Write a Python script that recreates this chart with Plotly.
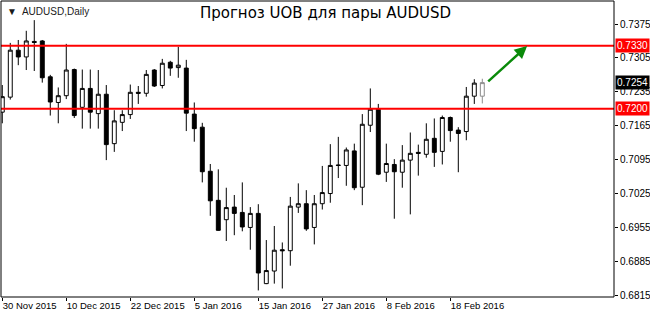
import plotly.graph_objects as go
import pandas as pd

dates = [
    "2015-11-30", "2015-12-01", "2015-12-02", "2015-12-03", "2015-12-04",
    "2015-12-07", "2015-12-08", "2015-12-09", "2015-12-10", "2015-12-11",
    "2015-12-14", "2015-12-15", "2015-12-16", "2015-12-17", "2015-12-18",
    "2015-12-21", "2015-12-22", "2015-12-23", "2015-12-24", "2015-12-28",
    "2015-12-29", "2015-12-30", "2015-12-31", "2016-01-04", "2016-01-05",
    "2016-01-06", "2016-01-07", "2016-01-08", "2016-01-11", "2016-01-12",
    "2016-01-13", "2016-01-14", "2016-01-15", "2016-01-18", "2016-01-19",
    "2016-01-20", "2016-01-21", "2016-01-22", "2016-01-25", "2016-01-26",
    "2016-01-27", "2016-01-28", "2016-01-29", "2016-02-01", "2016-02-02",
    "2016-02-03", "2016-02-04", "2016-02-05", "2016-02-08", "2016-02-09",
    "2016-02-10", "2016-02-11", "2016-02-12", "2016-02-15", "2016-02-16",
    "2016-02-17", "2016-02-18", "2016-02-19", "2016-02-22", "2016-02-23",
    "2016-02-24",
]

open_ = [
    0.7193, 0.7224, 0.7321, 0.7307, 0.7339, 0.7340, 0.7266, 0.7213, 0.7227, 0.7281,
    0.7203, 0.7242, 0.7190, 0.7230, 0.7128, 0.7172, 0.7188, 0.7234, 0.7232, 0.7280,
    0.7248, 0.7296, 0.7285, 0.7284, 0.7189, 0.7162, 0.7071, 0.7011, 0.6971, 0.6997,
    0.6986, 0.6955, 0.6984, 0.6839, 0.6865, 0.6909, 0.6907, 0.6997, 0.7004, 0.6955,
    0.7004, 0.7025, 0.7084, 0.7083, 0.7113, 0.7038, 0.7166, 0.7199, 0.7069, 0.7085,
    0.7069, 0.7094, 0.7110, 0.7106, 0.7139, 0.7112, 0.7182, 0.7156, 0.7153, 0.7226,
    0.7226,
]
high = [
    0.7249, 0.7336, 0.7342, 0.7361, 0.7383, 0.7342, 0.7270, 0.7244, 0.7334, 0.7283,
    0.7281, 0.7281, 0.7280, 0.7249, 0.7197, 0.7197, 0.7250, 0.7247, 0.7280, 0.7282,
    0.7303, 0.7299, 0.7328, 0.7301, 0.7213, 0.7171, 0.7086, 0.7075, 0.7037, 0.7022,
    0.7048, 0.6997, 0.7003, 0.6929, 0.6958, 0.6924, 0.7018, 0.7046, 0.7032, 0.7022,
    0.7082, 0.7127, 0.7142, 0.7120, 0.7128, 0.7189, 0.7242, 0.7210, 0.7128, 0.7096,
    0.7125, 0.7151, 0.7126, 0.7170, 0.7180, 0.7186, 0.7184, 0.7162, 0.7245, 0.7261,
    0.7262,
]
low = [
    0.7170, 0.7219, 0.7290, 0.7280, 0.7278, 0.7254, 0.7186, 0.7170, 0.7220, 0.7181,
    0.7159, 0.7159, 0.7159, 0.7094, 0.7111, 0.7154, 0.7179, 0.7210, 0.7225, 0.7245,
    0.7242, 0.7268, 0.7264, 0.7154, 0.7132, 0.7048, 0.6979, 0.6948, 0.6927, 0.6939,
    0.6947, 0.6909, 0.6825, 0.6838, 0.6839, 0.6829, 0.6876, 0.6985, 0.6948, 0.6920,
    0.6992, 0.7006, 0.7057, 0.7041, 0.7032, 0.7001, 0.7152, 0.7063, 0.7049, 0.6973,
    0.7037, 0.6982, 0.7062, 0.7099, 0.7080, 0.7085, 0.7132, 0.7069, 0.7135, 0.7210,
    0.7211,
]
close = [
    0.7225, 0.7321, 0.7307, 0.7340, 0.7337, 0.7264, 0.7214, 0.7227, 0.7280, 0.7186,
    0.7242, 0.7193, 0.7230, 0.7126, 0.7175, 0.7188, 0.7234, 0.7232, 0.7271, 0.7247,
    0.7294, 0.7284, 0.7290, 0.7191, 0.7159, 0.7070, 0.7010, 0.6949, 0.6996, 0.6984,
    0.6956, 0.6984, 0.6861, 0.6866, 0.6908, 0.6907, 0.6999, 0.7004, 0.6952, 0.7004,
    0.7027, 0.7083, 0.7083, 0.7115, 0.7037, 0.7168, 0.7199, 0.7065, 0.7087, 0.7070,
    0.7094, 0.7108, 0.7108, 0.7137, 0.7110, 0.7182, 0.7155, 0.7149, 0.7226, 0.7253,
    0.7254,
]

price_ticks = [0.6815, 0.6885, 0.6955, 0.7025, 0.7095, 0.7165, 0.7235, 0.7305, 0.7375]
label_dates = ["2015-11-30", "2015-12-10", "2015-12-22", "2016-01-05", "2016-01-15",
               "2016-01-27", "2016-02-08", "2016-02-18"]
levels = [0.7330, 0.7200]
current_price = 0.7254
arrow_from = (60.55, 0.72537)
arrow_to = (65.6, 0.73295)

title_text = "Прогноз UOB для пары AUDUSD"
symbol_text = "AUDUSD,Daily"

ticktext = [f"{pd.Timestamp(d).day} {pd.Timestamp(d):%b %Y}" for d in label_dates]

FONT = "Liberation Sans, Arial"

fig = go.Figure()

n = len(dates)
fig.add_trace(go.Candlestick(
    x=dates[:n - 1], open=open_[:n - 1], high=high[:n - 1], low=low[:n - 1], close=close[:n - 1],
    increasing=dict(fillcolor="white", line=dict(color="black", width=1)),
    decreasing=dict(fillcolor="black", line=dict(color="black", width=1)),
    whiskerwidth=0, hoverinfo="skip", showlegend=False,
))
fig.add_trace(go.Candlestick(
    x=dates[n - 1:], open=open_[n - 1:], high=high[n - 1:], low=low[n - 1:], close=close[n - 1:],
    increasing=dict(fillcolor="white", line=dict(color="#8c8c8c", width=1)),
    decreasing=dict(fillcolor="#8c8c8c", line=dict(color="#8c8c8c", width=1)),
    whiskerwidth=0, hoverinfo="skip", showlegend=False,
))

shapes = []
for lv in levels:
    shapes.append(dict(type="line", xref="paper", x0=0, x1=1, yref="y", y0=lv, y1=lv,
                       line=dict(color="#ff0000", width=2), layer="above"))
shapes.append(dict(type="rect", xref="paper", yref="paper", x0=0, x1=1, y0=0, y1=1,
                   line=dict(color="black", width=1), layer="above"))

annotations = [
    dict(text=title_text, xref="paper", yref="paper", x=0.53, y=1, yshift=-1, xanchor="center",
         yanchor="top", showarrow=False,
         font=dict(family="DejaVu Sans", size=15, color="black")),
    dict(text="\u25bc  " + symbol_text, xref="paper", yref="paper", x=0, y=1, xshift=4, yshift=-3,
         xanchor="left", yanchor="top", showarrow=False,
         font=dict(family=FONT, size=10, color="#1a1a1a")),
    dict(x=arrow_to[0], y=arrow_to[1], ax=arrow_from[0], ay=arrow_from[1], xref="x", yref="y",
         axref="x", ayref="y", text="", showarrow=True, arrowhead=2, arrowsize=1,
         arrowwidth=2.5, arrowcolor="#0a8a0a"),
]
for lv in levels:
    annotations.append(dict(text=f"{lv:.4f}", xref="paper", x=1, xanchor="left", xshift=1,
                            yref="y", y=lv, yanchor="middle", showarrow=False,
                            bgcolor="#ff0000", borderpad=1,
                            font=dict(family=FONT, size=10, color="white")))
annotations.append(dict(text=f"{current_price:.4f}", xref="paper", x=1, xanchor="left", xshift=1,
                        yref="y", y=current_price, yanchor="middle", showarrow=False,
                        bgcolor="black", borderpad=1,
                        font=dict(family=FONT, size=10, color="white")))

fig.update_layout(
    width=650, height=315,
    margin=dict(l=1, r=36, t=1, b=18, pad=0),
    paper_bgcolor="white", plot_bgcolor="white",
    showlegend=False,
    shapes=shapes, annotations=annotations,
    font=dict(family=FONT, size=10, color="black"),
    xaxis=dict(
        type="category", range=[-0.16, 76.46], rangeslider=dict(visible=False),
        tickmode="array", tickvals=label_dates, ticktext=ticktext, tickangle=0,
        ticks="outside", ticklen=3, tickcolor="black", ticklabelposition="outside right",
        showgrid=False, zeroline=False, showline=False, fixedrange=True, automargin=False,
        tickfont=dict(family=FONT, size=9.5, color="black"),
    ),
    yaxis=dict(
        side="right", range=[0.68114, 0.74225],
        tickmode="array", tickvals=price_ticks, ticktext=[f"{v:.4f}" for v in price_ticks],
        ticks="outside", ticklen=3, tickcolor="black",
        showgrid=False, zeroline=False, showline=False, fixedrange=True, automargin=False,
        tickfont=dict(family=FONT, size=10, color="black"),
    ),
)

fig.write_html("out.html", config={"displayModeBar": False})
